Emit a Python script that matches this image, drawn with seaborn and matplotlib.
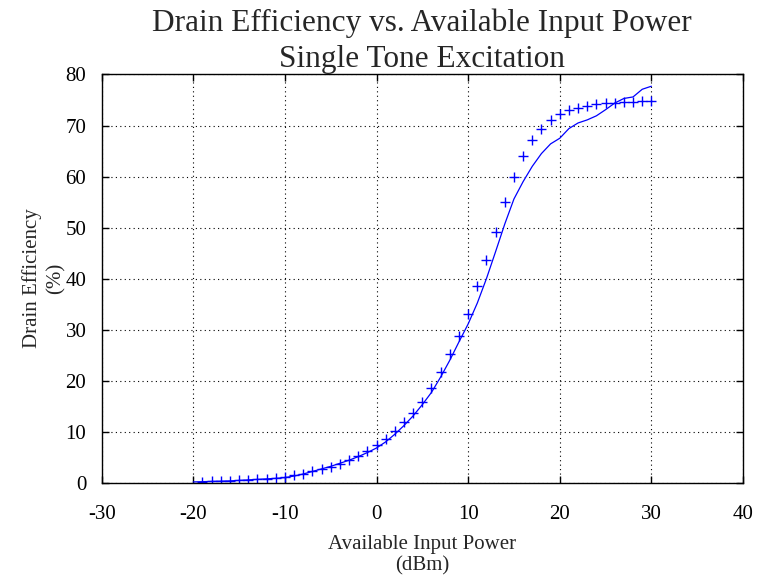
import matplotlib
matplotlib.use("Agg")
import matplotlib.pyplot as plt
import seaborn as sns
import pandas as pd

# measured points (markers)
meas_x = list(range(-19, 31))
meas_y = [0.2, 0.25, 0.3, 0.4, 0.45, 0.55, 0.65, 0.8, 0.9, 1.05,
          1.5, 1.8, 2.2, 2.7, 3.1, 3.6, 4.5, 5.2, 6.3, 7.4,
          8.6, 10.2, 11.9, 13.7, 15.9, 18.6, 21.6, 25.2, 28.8, 33.1,
          38.5, 43.6, 49.2, 55.0, 60.0, 64.1, 67.2, 69.4, 71.0, 72.2,
          73.0, 73.5, 73.9, 74.2, 74.4, 74.5, 74.6, 74.7, 74.8, 74.8]

# simulated curve (line)
sim_x = list(range(-20, 31))
sim_y = [0.15, 0.2, 0.25, 0.3, 0.35, 0.45, 0.55, 0.65, 0.75, 0.85,
         1.0, 1.3, 1.7, 2.2, 2.7, 3.2, 3.8, 4.4, 5.1, 5.9,
         6.8, 8.0, 9.5, 11.2, 13.1, 15.3, 17.7, 20.7, 24.0, 27.6,
         31.1, 35.2, 40.0, 45.3, 50.7, 55.6, 59.0, 62.0, 64.5, 66.4,
         67.5, 69.4, 70.5, 71.1, 71.9, 73.1, 74.4, 75.3, 75.6, 77.1,
         77.7]

x_ticks = [-30, -20, -10, 0, 10, 20, 30, 40]
y_ticks = [0, 10, 20, 30, 40, 50, 60, 70, 80]

sns.set_style("white")
plt.rcParams['font.family'] = ['Liberation Serif', 'DejaVu Serif']

fig = plt.figure(figsize=(7.63, 5.76), dpi=100)
ax = fig.add_axes([0.1332, 0.162, 0.8406, 0.7087])

sim = pd.DataFrame({"x": sim_x, "y": sim_y})
meas = pd.DataFrame({"x": meas_x, "y": meas_y})

sns.lineplot(data=sim, x="x", y="y", ax=ax, color="#0000ff", linewidth=0.9)
sns.scatterplot(data=meas, x="x", y="y", ax=ax, marker="+", color="#0000ff",
                s=45, linewidth=1.0)

ax.set_xlim(-30, 40)
ax.set_ylim(0, 80)
ax.set_xticks(x_ticks)
ax.set_yticks(y_ticks)
ax.set_xticklabels([str(t) for t in x_ticks])
ax.set_yticklabels([str(t) for t in y_ticks])

ax.grid(True, color="black", linestyle=(0, (1, 3)), linewidth=0.8)
for s in ax.spines.values():
    s.set_color("black")
    s.set_linewidth(1.0)
    s.set_visible(True)
ax.tick_params(direction="in", length=5, width=1, top=True, right=True,
               bottom=True, left=True, labelsize=15, colors="black")
ax.tick_params(axis="x", pad=16)
ax.tick_params(axis="y", pad=11)

ax.set_xlabel("Available Input Power\n(dBm)", fontsize=15, labelpad=8,
              linespacing=1.15)
ax.set_ylabel("Drain Efficiency\n(%)", fontsize=15, labelpad=0,
              linespacing=1.3)
ax.set_title("Drain Efficiency vs. Available Input Power\nSingle Tone Excitation",
             fontsize=22.5, linespacing=1.3, pad=5.5)

fig.savefig("out.png", dpi=100)
